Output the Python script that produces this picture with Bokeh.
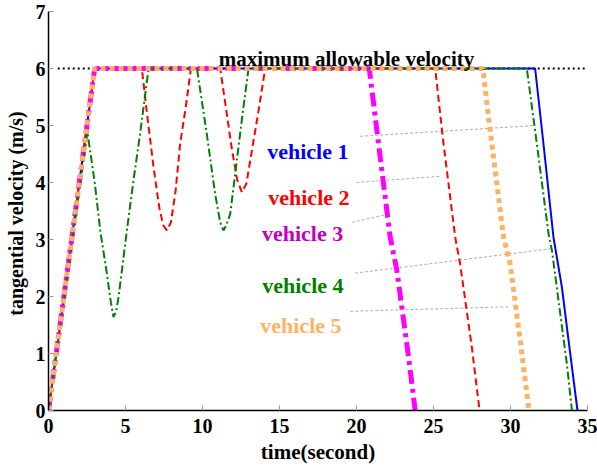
from bokeh.plotting import figure
from bokeh.models import Range1d, FixedTicker
from bokeh.core.properties import value
from bokeh.embed import file_html
from bokeh.resources import INLINE

# ---- data ----
t1 = [0, 3.0, 31.6, 32.14, 32.79, 33.34, 33.77, 34.35]
v1 = [0, 6.0, 6.0, 4.68, 3.04, 2.16, 1.23, 0.0]

t2 = [0, 3.0, 6.06, 6.4, 6.82, 7.2, 7.45, 7.69, 7.95, 8.25, 8.55, 8.9, 9.25,
      11.15, 11.5, 11.9, 12.25, 12.56, 12.85, 13.2, 13.64, 14.07,
      25.11, 25.65, 26.41, 26.73, 27.49, 27.99]
v2 = [0, 6.0, 6.0, 5.2, 4.27, 3.55, 3.25, 3.16, 3.3, 3.85, 4.68, 5.3, 6.0,
      6.0, 5.35, 4.6, 4.05, 3.83, 3.98, 4.55, 5.26, 6.0,
      6.0, 4.68, 3.04, 2.57, 1.11, 0.0]

t3 = [0, 3.0, 20.83, 21.43, 22.19, 22.62, 23.38, 23.81]
v3 = [0, 6.0, 6.0, 4.68, 3.04, 2.46, 0.94, 0.0]

t4 = [0, 2.53, 3.0, 3.36, 3.79, 4.05, 4.22, 4.4, 4.55, 5.09, 5.5, 5.95, 6.5,
      9.64, 10.28, 10.82, 11.15, 11.36, 11.55, 11.8, 12.23, 12.6, 12.99,
      31.06, 31.71, 32.47, 32.69, 33.23, 33.66, 33.99]
v4 = [0, 4.88, 4.0, 3.16, 2.4, 1.9, 1.64, 1.75, 1.99, 3.16, 4.0, 4.86, 6.0,
      6.0, 4.85, 3.8, 3.3, 3.16, 3.25, 3.45, 4.39, 5.2, 6.0,
      6.0, 4.68, 3.1, 2.81, 1.7, 0.82, 0.0]

t5 = [0, 3.0, 28.21, 28.57, 29.55, 29.98, 30.63, 31.2]
v5 = [0, 6.0, 6.0, 5.15, 3.04, 2.57, 1.23, 0.0]

vmax = 6.0
vmax_t = [0.6, 34.9]

labels = ["vehicle 1", "vehicle 2", "vehicle 3", "vehicle 4", "vehicle 5"]
label_x = [14.2, 14.27, 13.86, 13.88, 13.75]
label_y = [4.54, 3.73, 3.11, 2.19, 1.49]
lead_x0 = [20.24, 20.0, 19.7, 19.9, 19.6]
lead_y0 = [4.81, 4.0, 3.3, 2.41, 1.74]
lead_x1 = [31.6, 25.5, 21.97, 32.7, 29.98]
lead_y1 = [5.0, 4.11, 3.44, 2.84, 1.82]

x_ticks = [0, 5, 10, 15, 20, 25, 30, 35]
y_ticks = [0, 1, 2, 3, 4, 5, 6, 7]

FONT = "Liberation Serif"

p = figure(width=597, height=466, output_backend="svg", toolbar_location=None,
           x_range=Range1d(0, 35), y_range=Range1d(0, 7),
           min_border_left=48, min_border_right=10, min_border_top=11,
           min_border_bottom=56)
p.outline_line_color = None
p.grid.visible = False
p.background_fill_color = "white"

for ax in (p.xaxis[0], p.yaxis[0]):
    ax.major_tick_in = 5
    ax.major_tick_out = 0
    ax.minor_tick_in = 0
    ax.minor_tick_out = 0
    ax.major_tick_line_color = "#999999"
    ax.axis_line_color = "black"
    ax.axis_line_width = 1.5
    ax.major_label_text_font = FONT
    ax.major_label_text_font_style = "bold"
    ax.major_label_text_font_size = "20px"
    ax.major_label_text_color = "black"
    ax.axis_label_text_font = FONT
    ax.axis_label_text_font_style = "bold"
    ax.axis_label_text_color = "black"

p.xaxis.axis_label_text_font_size = "21px"
p.yaxis.axis_label_text_font_size = "20px"
p.xaxis.ticker = FixedTicker(ticks=x_ticks)
p.yaxis.ticker = FixedTicker(ticks=y_ticks)
p.xaxis.axis_label = "time(second)"
p.yaxis.axis_label = "tangential velocity  (m/s)"
p.xaxis.major_label_standoff = 8
p.xaxis.axis_label_standoff = 4
p.yaxis.major_label_standoff = 3
p.yaxis.axis_label_standoff = 6

# leader lines
p.segment(lead_x0, lead_y0, lead_x1, lead_y1, line_color="#999999",
          line_width=0.8, line_dash="3 2")

# maximum allowable velocity
p.line(vmax_t, [vmax, vmax], line_color="black", line_width=2, line_dash="2 3")

# vehicles
p.line(t1, v1, line_color="#0000FF", line_width=2)
p.line(t2, v2, line_color="#FF0000", line_width=2, line_dash="7 4")
p.line(t3, v3, line_color="#FF00FF", line_width=5, line_dash="14 5 4 5")
p.line(t4, v4, line_color="#008000", line_width=2, line_dash="8 3 2 3")
p.line(t5, v5, line_color="#FFB266", line_width=5, line_dash="5 4")

p.text(x=[19.35], y=[6.17], text=["maximum allowable velocity"],
       text_font=value(FONT), text_font_style="bold", text_font_size="21px",
       text_align="center", text_baseline="alphabetic", text_color="black")

colors = ["#0000FF", "#FF0000", "#BF00BF", "#008000", "#FFB266"]
p.text(x=label_x, y=label_y, text=labels, text_color=colors,
       text_font=value(FONT), text_font_style="bold", text_font_size="22px",
       text_align="left", text_baseline="alphabetic")

open("out.html", "w").write(file_html(p, INLINE))
